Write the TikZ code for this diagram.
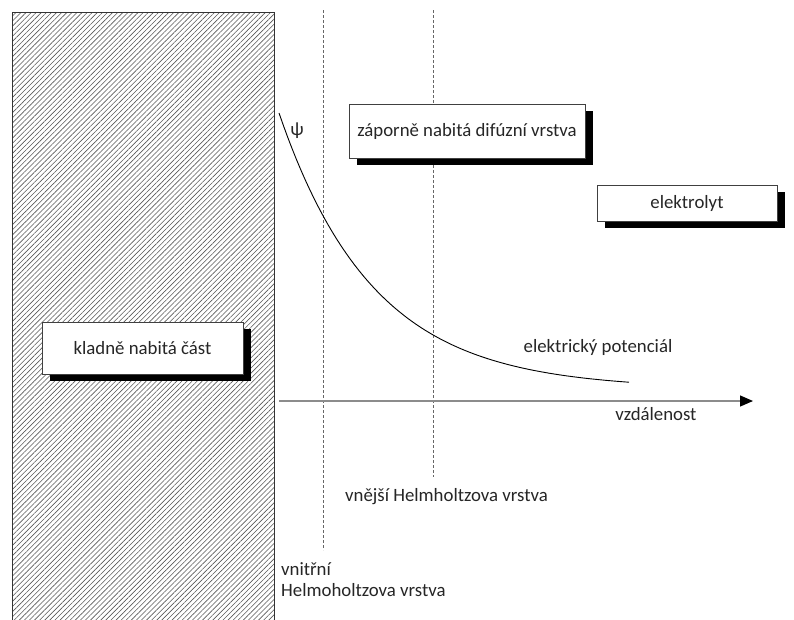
\documentclass[tikz,border=0pt]{standalone}
\usepackage{fontspec}
\setmainfont{Carlito}
\usetikzlibrary{positioning}
\usetikzlibrary{shadows}
\usetikzlibrary{patterns.meta}
\usetikzlibrary{arrows.meta}
\tikzset{
	shadowbox/.style={
		rectangle,
		align=center,
		fill=white,
		draw=black!75,
		line width=.8pt,
		inner sep=0pt,
		drop shadow={shadow xshift=8pt, shadow yshift=-7pt, fill=black, opacity=1}
	},
	helpline/.style={
		draw=black!60,
		line width=.6pt,
		dash pattern=on 2.5pt off 2.5pt
	},
	lbl/.style={
		inner sep=0pt,
		text=black!85,
		font=\fontsize{18.8}{21}\selectfont
	}
}

\begin{document}
\begin{tikzpicture}[x=1pt,y=-1pt]
				\clip (0,0) rectangle (794,619);
				\fill[white] (0,0) rectangle (794,619);
				
				% electrode
				\path[pattern={Lines[angle=45,distance=3.6pt,line width=.6pt]}, pattern color=black!65] (12,12) rectangle (274,630);
				\draw[black!80, line width=.8pt] (12,630) -- (12,12) -- (274,12) -- (274,630);
				
				% Helmholtz layers
				\coordinate (IHPtop) at (323,10);
				\coordinate (IHPbot) at (323,550);
				\coordinate (OHPtop) at (433,10);
				\coordinate (OHPbot) at (433,477);
				\draw[helpline] (IHPtop) -- (IHPbot);
				\draw[helpline] (OHPtop) -- (OHPbot);
				
				% potential and axis
				\draw[line width=.9pt] plot[domain=279:629, samples=80] (\x, {389-276*exp(-(\x-279)/94.5)});
				\coordinate (AxStart) at (279,401);
				\coordinate (AxEnd) at (753,401);
				\draw[black!45, line width=1.2pt, -{Triangle[length=13pt,width=11pt,black]}] (AxStart) -- (AxEnd);
				
				\node[shadowbox, lbl, minimum width=236pt, minimum height=54pt] (Diff) at (467,131) {záporně nabitá difúzní vrstva};
				\node[shadowbox, lbl, minimum width=180pt, minimum height=36pt] (Elyt) at (687,203) {elektrolyt};
				\node[shadowbox, lbl, minimum width=201pt, minimum height=52pt] (Pos) at (142.5,348) {kladně nabitá část};
				
				\node[lbl] (Psi) at (297,131) {ψ};
				\node[lbl] (Pot) at (598,347) {elektrický potenciál};
				\node[lbl] (Dist) at (656,414) {vzdálenost};
				\node[lbl, anchor=west] (OHP) at (345,497) {vnější Helmholtzova vrstva};
				\node[lbl, anchor=north west, align=left] (IHP) at (281,562) {vnitřní\\Helmoholtzova vrstva};
			\end{tikzpicture}
\end{document}
